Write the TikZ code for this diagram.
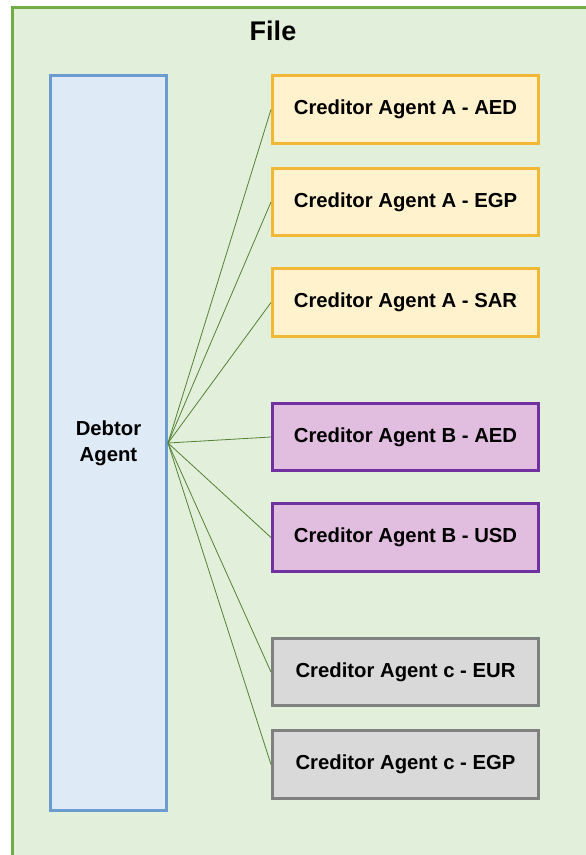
\documentclass[tikz,border=0pt]{standalone}
\usepackage{fontspec}
\setmainfont{Liberation Sans}
\usetikzlibrary{positioning}
\definecolor{fileFill}{RGB}{226,239,218}
\definecolor{fileLine}{RGB}{112,173,71}
\definecolor{debtFill}{RGB}{222,234,246}
\definecolor{debtLine}{RGB}{108,155,207}
\definecolor{aFill}{RGB}{255,242,204}
\definecolor{aLine}{RGB}{242,183,52}
\definecolor{bFill}{RGB}{225,190,224}
\definecolor{bLine}{RGB}{112,48,160}
\definecolor{cFill}{RGB}{217,217,217}
\definecolor{cLine}{RGB}{128,128,128}
\definecolor{linkLine}{RGB}{84,130,53}
\begin{document}
\begin{tikzpicture}
            [x=1pt, y=-1pt,
             txt/.style = {font=\fontsize{20.3}{26}\selectfont\bfseries, align=center},
             agent/.style = {txt, rectangle, line width=3pt, minimum width=266pt, minimum height=67.5pt, inner sep=0pt},
             agentA/.style = {agent, draw=aLine, fill=aFill},
             agentB/.style = {agent, draw=bLine, fill=bFill},
             agentC/.style = {agent, draw=cLine, fill=cFill},
             link/.style = {draw=linkLine, line width=0.8pt}]
            \clip (0,0) rectangle (586,855);
            % file frame
            \draw[draw=fileLine, fill=fileFill, line width=3pt] (12,7) rectangle (620,900);
            \node[txt, font=\fontsize{27}{30}\selectfont\bfseries] (file) at (273,31) {File};
            % debtor
            \node[txt, rectangle, draw=debtLine, fill=debtFill, line width=3pt,
                  minimum width=116pt, minimum height=735pt, inner sep=0pt] (debtor) at (108.5,443) {Debtor\\Agent};
            % creditors
            \node[agentA] (aAed) at (405.5,109.5) {Creditor Agent A - AED};
            \node[agentA] (aEgp) [below=22pt of aAed] {Creditor Agent A - EGP};
            \node[agentA] (aSar) [below=30pt of aEgp] {Creditor Agent A - SAR};
            \node[agentB] (bAed) [below=64pt of aSar] {Creditor Agent B - AED};
            \node[agentB] (bUsd) [below=30pt of bAed] {Creditor Agent B - USD};
            \node[agentC] (cEur) [below=64pt of bUsd] {Creditor Agent c - EUR};
            \node[agentC] (cEgp) [below=22pt of cEur] {Creditor Agent c - EGP};
            \foreach \n in {aAed, aEgp, aSar, bAed, bUsd, cEur, cEgp}
                \draw[link] (debtor.east) -- (\n.west);
        \end{tikzpicture}
\end{document}
